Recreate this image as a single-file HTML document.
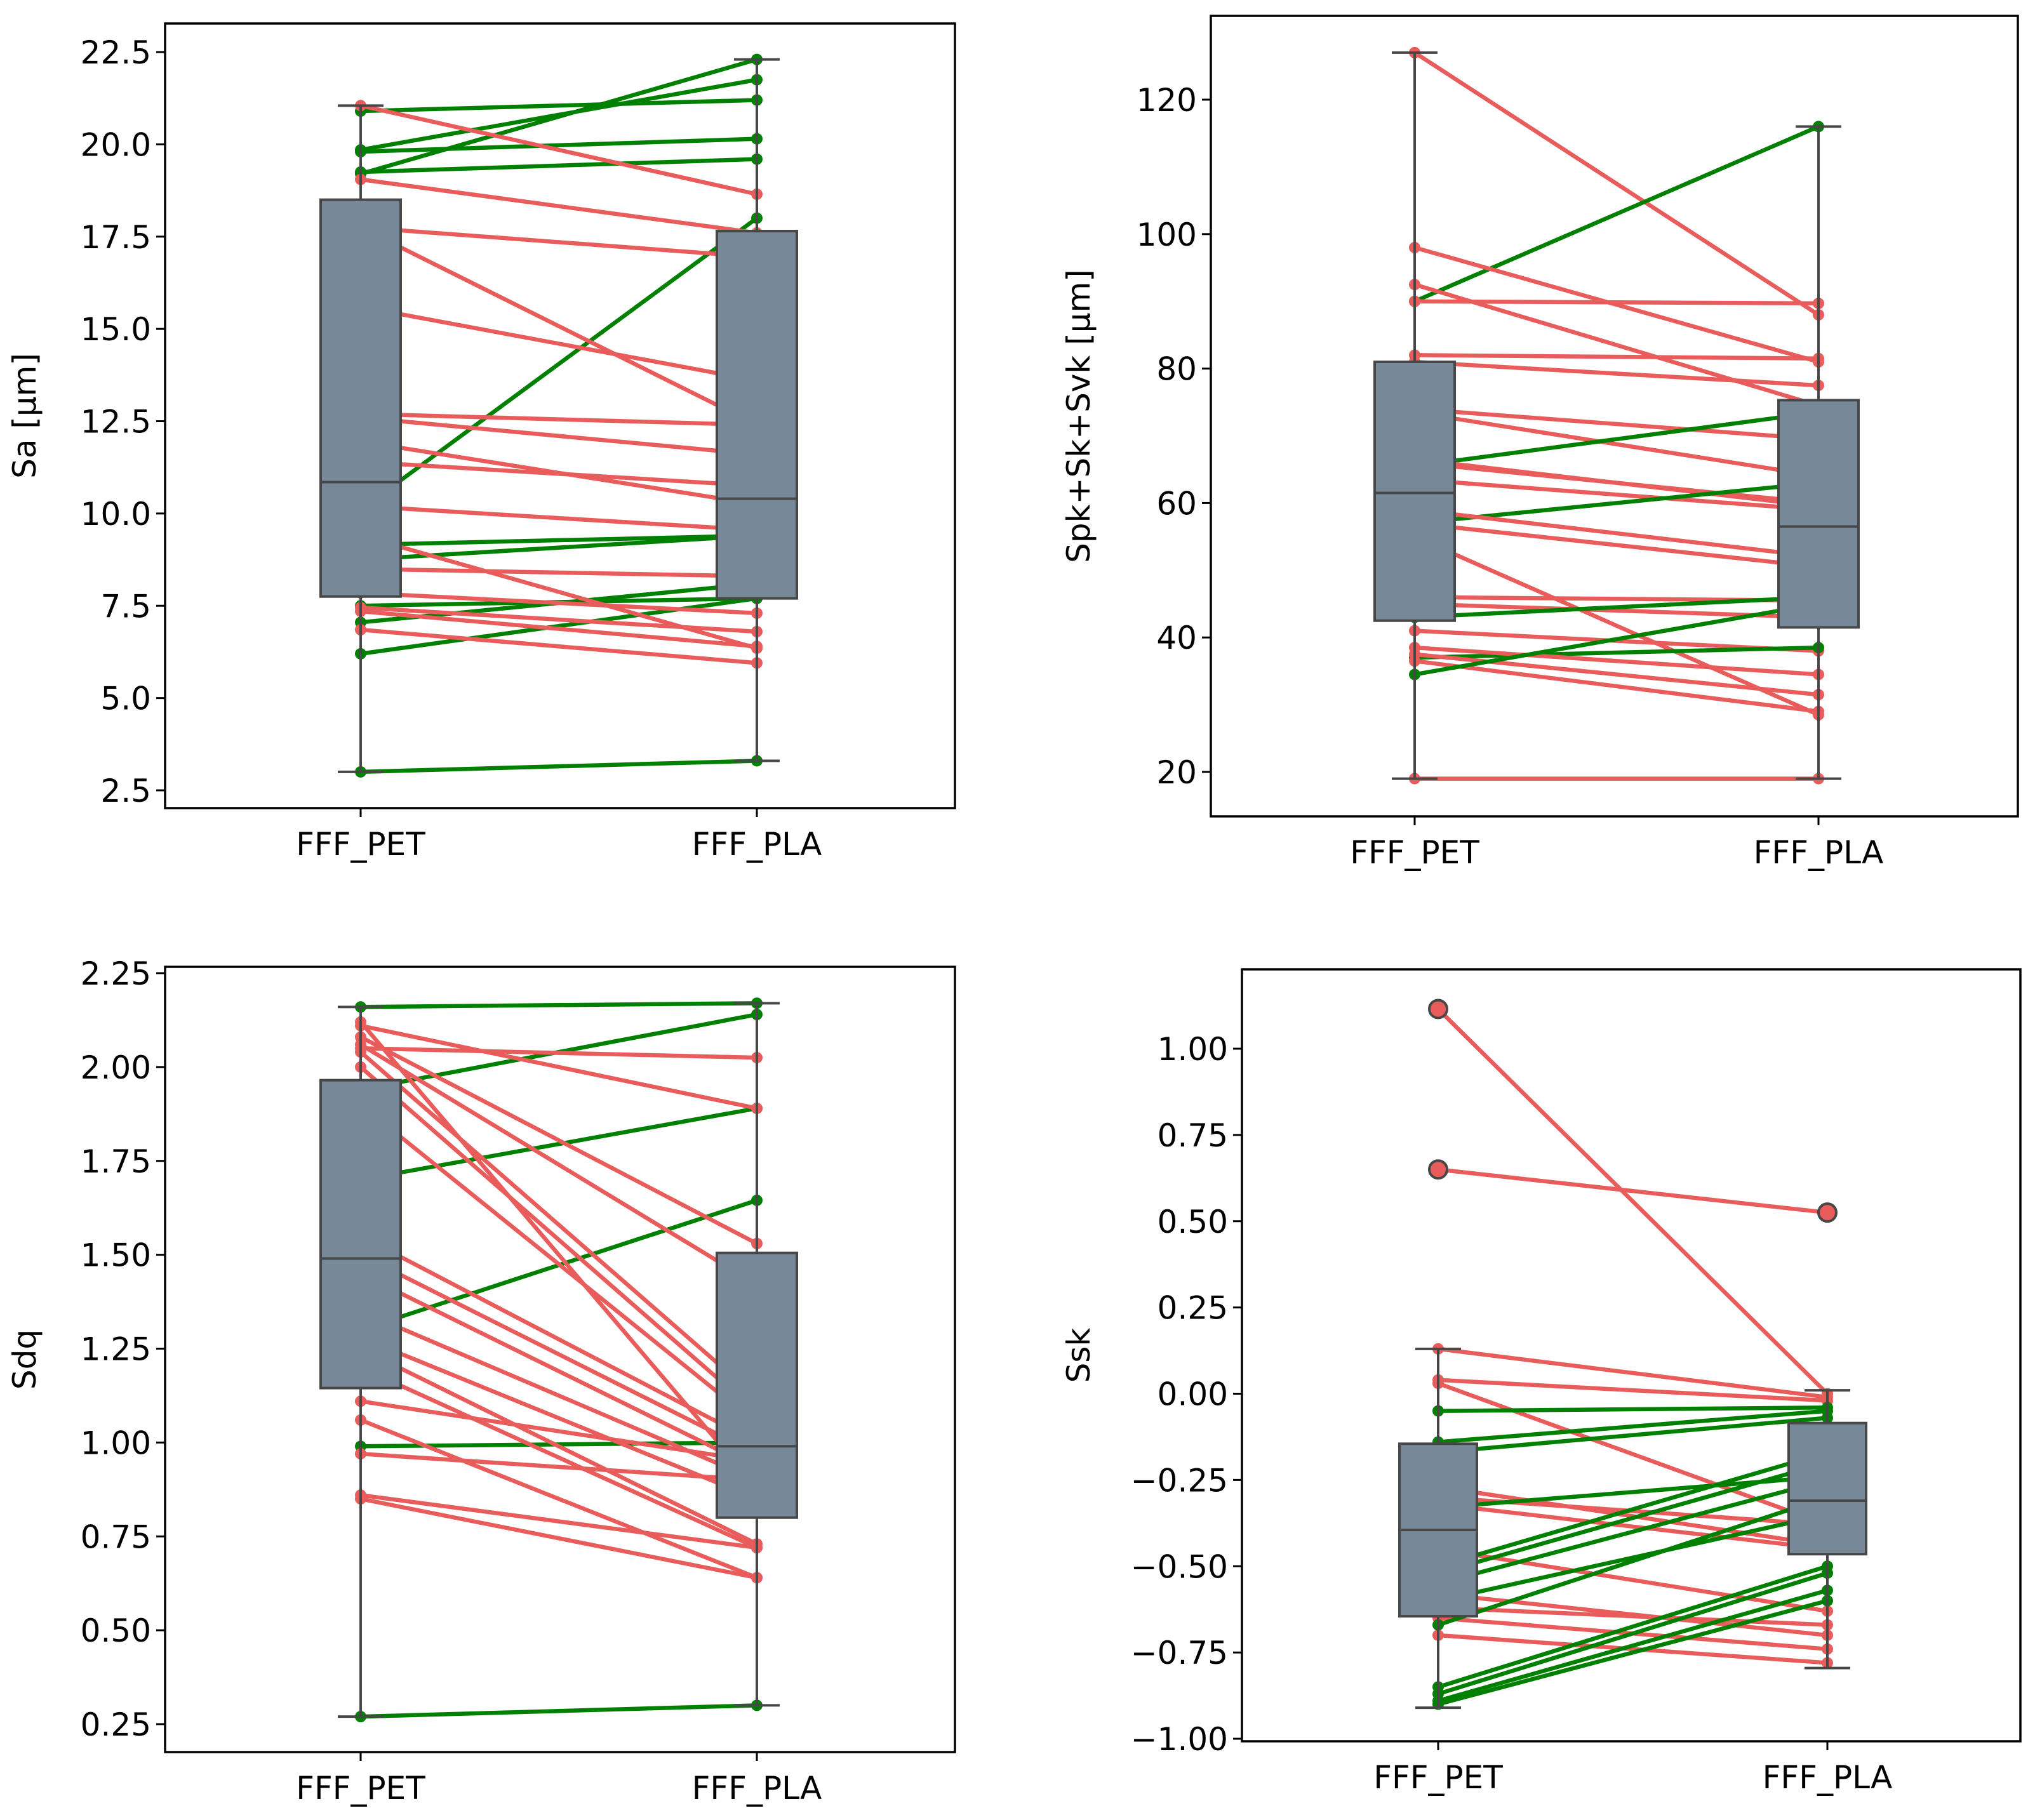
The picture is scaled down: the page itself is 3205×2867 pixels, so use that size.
<!DOCTYPE html>
<html><head><meta charset="utf-8"><style>
html,body{margin:0;padding:0;background:#fff;}
svg{display:block;font-family:"DejaVu Sans","Liberation Sans",sans-serif;}
</style></head><body>
<svg id="fig" width="3205" height="2867" viewBox="0 0 3205 2867" xmlns="http://www.w3.org/2000/svg"></svg>
<script>
const categories = ["FFF_PET","FFF_PLA"];
// Panel 1: Sa
const saPet = [20.9,19.85,19.2,19.8,19.25,10.1,9.15,8.75,7.05,6.2,7.5,3.0,21.05,19.05,17.75,17.75,15.6,12.7,12.6,11.95,11.4,10.2,9.4,8.5,7.85,7.45,7.35,6.85];
const saPla = [21.2,21.75,22.3,20.15,19.6,18.0,9.4,9.4,8.1,7.7,7.7,3.3,18.65,17.6,16.95,12.4,13.6,12.4,11.6,10.25,10.75,9.55,6.35,8.3,7.3,6.8,6.4,5.95];
const saGreen = [1,1,1,1,1,1,1,1,1,1,1,1,0,0,0,0,0,0,0,0,0,0,0,0,0,0,0,0];
const saBox = [[3.0,7.75,10.85,18.5,21.05],[3.3,7.7,10.4,17.65,22.3]];
const saTicks = [2.5,5.0,7.5,10.0,12.5,15.0,17.5,20.0,22.5];
// Panel 2: Spk+Sk+Svk
const spPet = [127,90,98,92.5,90,82,81,74,73.5,65.5,66.5,66,63.5,57,59,57,55,46,45,43,41,37,38.5,37.5,36.5,34.5,19];
const spPla = [88,116,81,74.5,89.7,81.5,77.5,69.5,64,73.5,59.5,60,59,63,52,50.5,28.5,45.5,43,46,38,38.5,34.5,31.5,29,45,19];
const spGreen = [0,1,0,0,0,0,0,0,0,1,0,0,0,1,0,0,0,0,0,1,0,1,0,0,0,1,0];
const spBox = [[19,42.5,61.5,81,127],[19,41.5,56.5,75.3,116]];
const spTicks = [20,40,60,80,100,120];
// Panel 3: Sdq
const sdPet = [2.16,1.94,1.70,1.30,0.99,0.27,2.12,2.11,2.05,2.08,2.06,2.04,2.0,1.9,1.55,1.5,1.45,1.35,1.28,1.25,1.2,1.11,1.06,0.97,0.86,0.85];
const sdPla = [2.17,2.14,1.89,1.645,1.0,0.30,0.88,1.89,2.025,1.53,1.42,1.12,1.08,1.05,1.0,0.97,0.93,0.9,0.85,0.73,0.72,0.95,0.64,0.9,0.72,0.64];
const sdGreen = [1,1,1,1,1,1,0,0,0,0,0,0,0,0,0,0,0,0,0,0,0,0,0,0,0,0];
const sdBox = [[0.27,1.145,1.49,1.965,2.16],[0.30,0.80,0.99,1.505,2.17]];
const sdTicks = [0.25,0.50,0.75,1.00,1.25,1.50,1.75,2.00,2.25];
// Panel 4: Ssk
const skPet = [1.115,0.65,0.13,0.04,0.03,-0.27,-0.30,-0.32,-0.58,-0.62,-0.65,-0.70,-0.45,-0.05,-0.14,-0.17,-0.33,-0.50,-0.52,-0.55,-0.60,-0.67,-0.85,-0.87,-0.89,-0.90];
const skPla = [0.0,0.525,-0.01,-0.02,-0.38,-0.44,-0.38,-0.45,-0.70,-0.67,-0.74,-0.78,-0.63,-0.04,-0.05,-0.07,-0.24,-0.17,-0.20,-0.25,-0.35,-0.30,-0.50,-0.52,-0.57,-0.60];
const skGreen = [0,0,0,0,0,0,0,0,0,0,0,0,0,1,1,1,1,1,1,1,1,1,1,1,1,1];
const skBox = [[-0.91,-0.645,-0.395,-0.145,0.13],[-0.795,-0.465,-0.31,-0.085,0.01]];
const skOutPet = [1.115,0.65];
const skOutPla = [0.525];
const skTicks = [-1.00,-0.75,-0.50,-0.25,0.00,0.25,0.50,0.75,1.00];

const NS="http://www.w3.org/2000/svg";
const fig=document.getElementById('fig');
function mk(tag,attrs,parent){const e=document.createElementNS(NS,tag);for(const k in attrs)e.setAttribute(k,attrs[k]);(parent||fig).appendChild(e);return e;}

function panel(cfg){
  const g=mk('g',{});
  
  
  const y=v=>cfg.y0+(v-cfg.v0)*(cfg.y1-cfg.y0)/(cfg.v1-cfg.v0);
  const xs=cfg.cx;
  for(let i=0;i<cfg.pet.length;i++){
    const col=cfg.green[i]?'#008000':'#e85c5c';
    const l=mk('line',{x1:xs[0],y1:y(cfg.pet[i]),x2:xs[1],y2:y(cfg.pla[i]),stroke:col,'stroke-width':6.5},g);
    
    
    for(let k=0;k<2;k++){
      const c=mk('circle',{cx:xs[k],cy:y(k?cfg.pla[i]:cfg.pet[i]),r:9,fill:col},g);
      
      
    }
  }
  const bw=cfg.bw, cap=cfg.cap;
  cfg.box.forEach((b,k)=>{
    const cx=xs[k];
    mk('line',{x1:cx,y1:y(b[0]),x2:cx,y2:y(b[1]),stroke:'#474747','stroke-width':4},g);
    mk('line',{x1:cx,y1:y(b[3]),x2:cx,y2:y(b[4]),stroke:'#474747','stroke-width':4},g);
    mk('line',{x1:cx-cap,y1:y(b[0]),x2:cx+cap,y2:y(b[0]),stroke:'#474747','stroke-width':4},g);
    mk('line',{x1:cx-cap,y1:y(b[4]),x2:cx+cap,y2:y(b[4]),stroke:'#474747','stroke-width':4},g);
    const r=mk('rect',{x:cx-bw/2,y:y(b[3]),width:bw,height:y(b[1])-y(b[3]),fill:'#778899',stroke:'#474747','stroke-width':4},g);
    
    
    mk('line',{x1:cx-bw/2,y1:y(b[2]),x2:cx+bw/2,y2:y(b[2]),stroke:'#474747','stroke-width':4},g);
  });
  (cfg.outs||[]).forEach((arr,k)=>arr.forEach(v=>{
    const o=mk('circle',{cx:xs[k],cy:y(v),r:14,fill:'#e85c5c',stroke:'#474747','stroke-width':4},g);
    
    
  }));
  const fr=mk('rect',{x:cfg.ax0,y:cfg.ay0,width:cfg.ax1-cfg.ax0,height:cfg.ay1-cfg.ay0,fill:'none',stroke:'#000','stroke-width':3.5},g);
  
  
  cfg.ticks.forEach(t=>{
    const ty=y(t);
    mk('line',{x1:cfg.ax0-14,y1:ty,x2:cfg.ax0,y2:ty,stroke:'#000','stroke-width':3},g);
    const tx=mk('text',{x:cfg.ax0-22,y:ty+18,'font-size':50,'text-anchor':'end',fill:'#000'},g);
    tx.textContent=(t<0?'\u2212':'')+Math.abs(t).toFixed(cfg.dec);
    
    
  });
  categories.forEach((c,k)=>{
    mk('line',{x1:xs[k],y1:cfg.ay1,x2:xs[k],y2:cfg.ay1+14,stroke:'#000','stroke-width':3},g);
    const tx=mk('text',{x:xs[k],y:cfg.ay1+74,'font-size':50,'text-anchor':'middle',fill:'#000'},g);
    tx.textContent=c;
    
    
  });
  const lab=mk('text',{x:0,y:0,'font-size':50,'text-anchor':'middle',fill:'#000',transform:`translate(${cfg.lx},${(cfg.ay0+cfg.ay1)/2}) rotate(-90)`},g);
  lab.textContent=cfg.label;
  
  
}

panel({name:'sa-panel',pet:saPet,pla:saPla,green:saGreen,box:saBox,ticks:saTicks,dec:1,
  v0:2.5,v1:22.5,y0:1245,y1:82,cx:[568,1192],bw:126,cap:36,ax0:260,ax1:1504,ay0:37,ay1:1273,lx:56,label:'Sa [\u00b5m]'});
panel({name:'spk-sk-svk-panel',pet:spPet,pla:spPla,green:spGreen,box:spBox,ticks:spTicks,dec:0,
  v0:20,v1:120,y0:1216,y1:157,cx:[2228,2864],bw:126,cap:36,ax0:1907,ax1:3178,ay0:25,ay1:1286,lx:1716,label:'Spk+Sk+Svk [\u00b5m]'});
panel({name:'sdq-panel',pet:sdPet,pla:sdPla,green:sdGreen,box:sdBox,ticks:sdTicks,dec:2,
  v0:0.25,v1:2.25,y0:2716,y1:1533,cx:[568,1192],bw:126,cap:36,ax0:260,ax1:1504,ay0:1523,ay1:2760,lx:56,label:'Sdq'});
panel({name:'ssk-panel',pet:skPet,pla:skPla,green:skGreen,box:skBox,ticks:skTicks,dec:2,outs:[skOutPet,skOutPla],
  v0:-1.0,v1:1.0,y0:2739,y1:1652,cx:[2265,2878],bw:122,cap:36,ax0:1956,ax1:3182,ay0:1527,ay1:2743,lx:1716,label:'Ssk'});
</script>
</body></html>
